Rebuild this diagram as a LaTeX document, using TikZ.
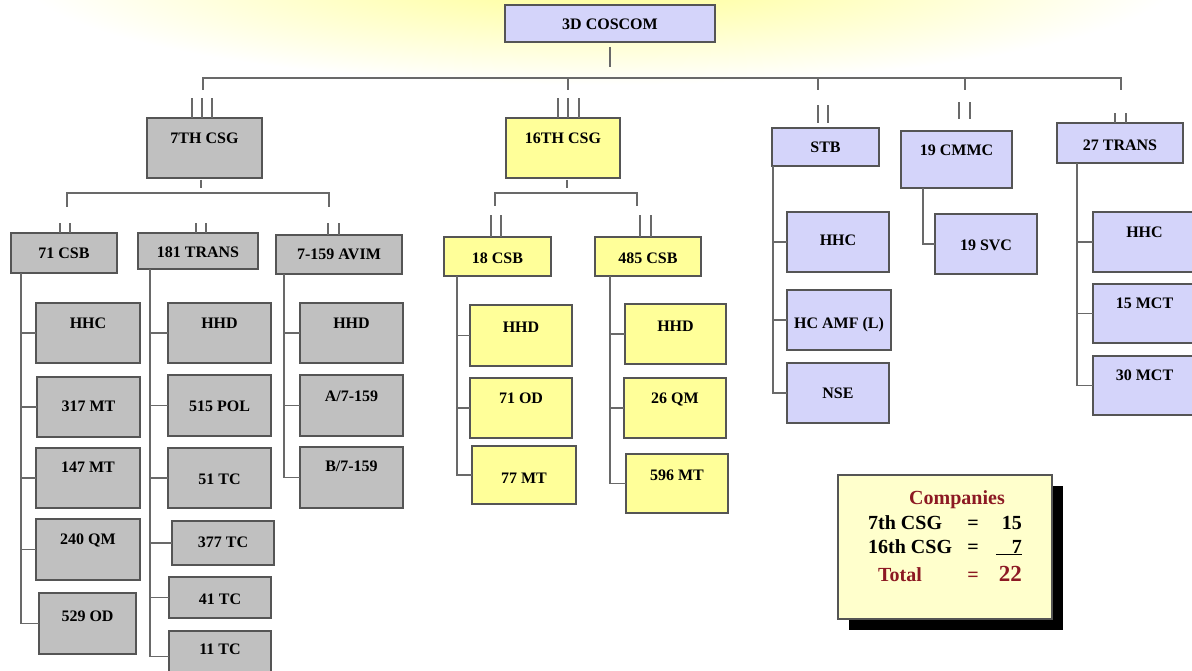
\documentclass[tikz,border=0pt]{standalone}
\usepackage{fontspec}
\usepackage{graphicx}
\setmainfont{Liberation Serif}
\usetikzlibrary{shadows,calc}
\definecolor{lav}{RGB}{212,212,250}
\definecolor{yel}{RGB}{255,255,153}
\definecolor{gry}{RGB}{192,192,192}
\definecolor{cream}{RGB}{255,255,204}
\definecolor{dred}{RGB}{140,25,35}
\definecolor{edge}{RGB}{85,85,85}
\definecolor{wire}{RGB}{105,105,105}
\newcommand\bx[8]{%
  \node[#1, minimum width={#5-#3}, minimum height={#6-#4}] (#2) at ({(#3+#5)/2},{(#4+#6)/2}) {};
  \node[lbl] (#2t) at ({(#3+#5)/2},{#8+5.5}) {#7};}
\begin{document}
\begin{tikzpicture}[x=1pt,y=-1pt,
  box/.style={draw=edge,line width=1.5pt,inner sep=0pt,outer sep=0pt},
  gbox/.style={box,fill=gry},
  ybox/.style={box,fill=yel},
  lbox/.style={box,fill=lav},
  lbl/.style={font=\fontsize{16}{19}\selectfont\bfseries, inner sep=0pt, anchor=base},
  ln/.style={draw=wire,line width=1.6pt},
  ctxt/.style={font=\fontsize{20}{24}\selectfont\bfseries, inner sep=0pt}]
\fill[white] (0,0) rectangle (1192,671);
\useasboundingbox (0,0) rectangle (1192,671);
\begin{scope}
  \clip (0,0) rectangle (1192,671);
  \shade[inner color=yellow!45, outer color=white] (600,-25) ellipse [x radius=580pt, y radius=110pt];
\end{scope}

% top
\bx{lbox}{coscom}{505}{5}{715}{42}{3D COSCOM}{24}
\draw[ln] ([yshift=-5pt]coscom.south) -- ++(0,20);
\coordinate (bA) at (203,90);
\coordinate (bE) at (1121,90);
\draw[ln] (bA) -- (203,78) -- (1121,78) -- (bE);
\foreach \x in {568,818,965} \draw[ln] (\x,78) -- (\x,90);

% 7TH CSG
\bx{gbox}{csgA}{147}{118}{262}{178}{7TH CSG}{138}
\foreach \d in {-12.5,-2.5,7.5} \draw[ln] ([xshift=\d pt]csgA.north) -- ++(0,-20);
\draw[ln] ([xshift=-3.5pt,yshift=-2pt]csgA.south) -- ++(0,8);
\coordinate (sAL) at (67,207);
\coordinate (sAR) at (329,207);
\draw[ln] (sAL) -- (67,193) -- (329,193) -- (sAR);

\bx{gbox}{csbA}{11}{233}{117}{273}{71 CSB}{253}
\bx{gbox}{transA}{138}{233}{258}{269}{181 TRANS}{252}
\bx{gbox}{avim}{276}{235}{402}{274}{7-159 AVIM}{254}
\foreach \d in {-4,6} \draw[ln] ([xshift=\d pt]csbA.north) -- ++(0,-10);
\foreach \d in {-2,8} \draw[ln] ([xshift=\d pt]transA.north) -- ++(0,-10);
\foreach \d in {-11,0} \draw[ln] ([xshift=\d pt]avim.north) -- ++(0,-12);

\bx{gbox}{hhcA}{36}{303}{140}{363}{HHC}{323}
\bx{gbox}{mtA}{37}{377}{140}{437}{317 MT}{406}
\bx{gbox}{mtB}{36}{448}{140}{508}{147 MT}{467}
\bx{gbox}{qmA}{36}{519}{140}{580}{240 QM}{539}
\bx{gbox}{odA}{39}{593}{136}{654}{529 OD}{616}

\bx{gbox}{hhdA}{168}{303}{271}{363}{HHD}{323}
\bx{gbox}{pol}{168}{375}{271}{436}{515 POL}{406}
\bx{gbox}{tcA}{168}{448}{271}{508}{51 TC}{479}
\bx{gbox}{tcB}{172}{521}{274}{565}{377 TC}{542}
\bx{gbox}{tcC}{169}{577}{271}{618}{41 TC}{599}
\bx{gbox}{tcD}{169}{631}{271}{682}{11 TC}{649}

\bx{gbox}{hhdB}{300}{303}{403}{363}{HHD}{323}
\bx{gbox}{avA}{300}{375}{403}{436}{A/7-159}{396}
\bx{gbox}{avB}{300}{447}{403}{508}{B/7-159}{466}

\coordinate (kA) at ([xshift=10pt]csbA.south west);
\draw[ln] (kA) |- (odA.west);
\foreach \n in {hhcA,mtA,mtB,qmA} \draw[ln] (kA |- \n.west) -- (\n.west);
\coordinate (kB) at ([xshift=12pt]transA.south west);
\draw[ln] (kB) |- (tcD.west);
\foreach \n in {hhdA,pol,tcA,tcB,tcC} \draw[ln] (kB |- \n.west) -- (\n.west);
\coordinate (kC) at ([xshift=8pt]avim.south west);
\draw[ln] (kC) |- (avB.west);
\foreach \n in {hhdB,avA} \draw[ln] (kC |- \n.west) -- (\n.west);

% 16TH CSG
\bx{ybox}{csgB}{506}{118}{620}{178}{16TH CSG}{138}
\foreach \d in {-5,5,16} \draw[ln] ([xshift=\d pt]csgB.north) -- ++(0,-20);
\draw[ln] ([xshift=4pt,yshift=-2pt]csgB.south) -- ++(0,8);
\coordinate (sBL) at (495,206);
\coordinate (sBR) at (637,206);
\draw[ln] (sBL) -- (495,193) -- (637,193) -- (sBR);

\bx{ybox}{csbB}{444}{237}{551}{276}{18 CSB}{258}
\bx{ybox}{csbC}{595}{237}{701}{276}{485 CSB}{258}
\foreach \d in {-6.5,3.5} \draw[ln] ([xshift=\d pt]csbB.north) -- ++(0,-22);
\foreach \d in {-8,3} \draw[ln] ([xshift=\d pt]csbC.north) -- ++(0,-22);

\bx{ybox}{hhdC}{470}{305}{572}{366}{HHD}{327}
\bx{ybox}{odB}{470}{378}{572}{438}{71 OD}{398}
\bx{ybox}{mtC}{472}{446}{576}{504}{77 MT}{478}
\bx{ybox}{hhdD}{625}{304}{726}{364}{HHD}{326}
\bx{ybox}{qmB}{624}{378}{726}{438}{26 QM}{398}
\bx{ybox}{mtD}{626}{454}{728}{513}{596 MT}{475}

\coordinate (kD) at ([xshift=13pt]csbB.south west);
\draw[ln] (kD) |- (mtC.west);
\foreach \n in {hhdC,odB} \draw[ln] (kD |- \n.west) -- (\n.west);
\coordinate (kE) at ([xshift=15pt]csbC.south west);
\draw[ln] (kE) |- (mtD.west);
\foreach \n in {hhdD,qmB} \draw[ln] (kE |- \n.west) -- (\n.west);

% STB
\bx{lbox}{stb}{772}{128}{879}{166}{STB}{147}
\foreach \d in {-7.5,2.5} \draw[ln] ([xshift=\d pt,yshift=5pt]stb.north) -- ++(0,-18);
\bx{lbox}{hhcB}{787}{212}{889}{272}{HHC}{240}
\bx{lbox}{amf}{787}{290}{891}{350}{HC AMF (L)}{323}
\bx{lbox}{nse}{787}{363}{889}{423}{NSE}{393}
\coordinate (kF) at ([xshift=1pt]stb.south west);
\draw[ln] (kF) |- (nse.west);
\foreach \n in {hhcB,amf} \draw[ln] (kF |- \n.west) -- (\n.west);

% 19 CMMC
\bx{lbox}{cmmc}{901}{131}{1012}{188}{19 CMMC}{150}
\foreach \d in {2.5,13.5} \draw[ln] ([xshift=\d pt,yshift=12pt]cmmc.north) -- ++(0,-17);
\bx{lbox}{svc}{935}{214}{1037}{274}{19 SVC}{245}
\coordinate (kG) at ([xshift=22pt]cmmc.south west);
\draw[ln] (kG) |- (svc.west);

% 27 TRANS
\bx{lbox}{transB}{1057}{123}{1183}{163}{27 TRANS}{145}
\foreach \d in {-5,6} \draw[ln] ([xshift=\d pt]transB.north) -- ++(0,-10);
\bx{lbox}{hhcC}{1093}{212}{1196}{272}{HHC}{232}
\bx{lbox}{mctA}{1093}{284}{1196}{343}{15 MCT}{303}
\bx{lbox}{mctB}{1093}{356}{1196}{415}{30 MCT}{375}
\coordinate (kH) at ([xshift=20pt]transB.south west);
\draw[ln] (kH) |- (mctB.west);
\foreach \n in {hhcC,mctA} \draw[ln] (kH |- \n.west) -- (\n.west);

% Companies
\node[draw=edge, line width=1.2pt, fill=cream, minimum width=214, minimum height=144, inner sep=0pt,
  drop shadow={shadow xshift=11pt, shadow yshift=-11pt, fill=black, opacity=1}] (comp) at (945,547) {};
\node[ctxt, anchor=base, text=dred] (cA) at (957,504) {Companies};
\node[ctxt, anchor=base west] (cB) at (868,529) {7th CSG};
\node[ctxt, anchor=base] (cC) at (973,529) {=};
\node[ctxt, anchor=base east] (cD) at (1022,529) {15};
\node[ctxt, anchor=base west] (cE) at (868,553) {16th CSG};
\node[ctxt, anchor=base] (cF) at (973,553) {=};
\node[ctxt, anchor=base east] (cG) at (1022,553) {\underline{\makebox[26pt][r]{7}}};
\node[ctxt, anchor=base west, text=dred] (cH) at (878,581) {Total};
\node[ctxt, anchor=base, text=dred] (cI) at (973,581) {=};
\node[ctxt, anchor=base east, text=dred] (cJ) at (1022,581) {\scalebox{1.15}{22}};
\end{tikzpicture}
\end{document}
